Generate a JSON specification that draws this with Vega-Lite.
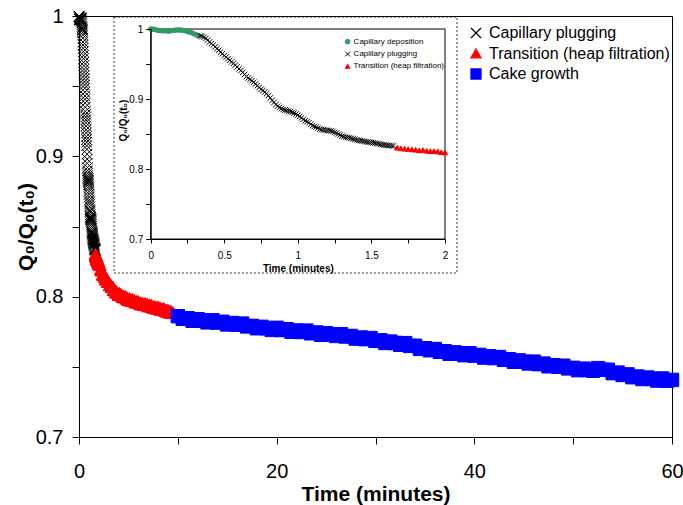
{
  "$schema": "https://vega.github.io/schema/vega-lite/v6.json",
  "width": 593,
  "height": 421,
  "autosize": "none",
  "padding": {"left": 79, "top": 16, "right": 11, "bottom": 68},
  "background": "white",
  "config": {
    "font": "Liberation Sans",
    "view": {"stroke": "#000000", "strokeWidth": 1},
    "axis": {"grid": false, "domainColor": "#000000", "tickColor": "#000000", "labelColor": "#000000", "titleColor": "#000000", "labelFlush": false, "labelOverlap": false, "domainWidth": 1, "tickWidth": 1},
    "legend": {"labelColor": "#000000", "padding": 0, "labelLimit": 400}
  },
  "datasets": {
    "dep": [{"t":0,"q":1.0},{"t":0.0125,"q":0.9998},{"t":0.025,"q":0.9995},{"t":0.0375,"q":0.9988},{"t":0.05,"q":0.998},{"t":0.0625,"q":0.9977},{"t":0.075,"q":0.9975},{"t":0.0875,"q":0.9974},{"t":0.1,"q":0.9975},{"t":0.1125,"q":0.9972},{"t":0.125,"q":0.997},{"t":0.1375,"q":0.9976},{"t":0.15,"q":0.998},{"t":0.1625,"q":0.9983},{"t":0.175,"q":0.9985},{"t":0.1875,"q":0.9986},{"t":0.2,"q":0.9985},{"t":0.2125,"q":0.9983},{"t":0.225,"q":0.998},{"t":0.2375,"q":0.9973},{"t":0.25,"q":0.9965},{"t":0.2625,"q":0.9958},{"t":0.275,"q":0.995},{"t":0.2875,"q":0.9938},{"t":0.3,"q":0.9925},{"t":0.3125,"q":0.9915},{"t":0.325,"q":0.9905}],
    "plug": [{"t":0.3375,"q":0.99},{"t":0.35,"q":0.9895},{"t":0.3625,"q":0.9882},{"t":0.375,"q":0.9865},{"t":0.3875,"q":0.9842},{"t":0.4,"q":0.9815},{"t":0.4125,"q":0.9793},{"t":0.425,"q":0.977},{"t":0.4375,"q":0.9746},{"t":0.45,"q":0.972},{"t":0.4625,"q":0.9696},{"t":0.475,"q":0.967},{"t":0.4875,"q":0.9646},{"t":0.5,"q":0.962},{"t":0.5125,"q":0.9598},{"t":0.525,"q":0.9575},{"t":0.5375,"q":0.9553},{"t":0.55,"q":0.953},{"t":0.5625,"q":0.9508},{"t":0.575,"q":0.9485},{"t":0.5875,"q":0.9458},{"t":0.6,"q":0.943},{"t":0.6125,"q":0.9406},{"t":0.625,"q":0.938},{"t":0.6375,"q":0.935},{"t":0.65,"q":0.932},{"t":0.6625,"q":0.93},{"t":0.675,"q":0.928},{"t":0.6875,"q":0.926},{"t":0.7,"q":0.924},{"t":0.7125,"q":0.9215},{"t":0.725,"q":0.919},{"t":0.7375,"q":0.9166},{"t":0.75,"q":0.914},{"t":0.7625,"q":0.912},{"t":0.775,"q":0.91},{"t":0.7875,"q":0.9076},{"t":0.8,"q":0.905},{"t":0.8125,"q":0.9015},{"t":0.825,"q":0.898},{"t":0.8375,"q":0.895},{"t":0.85,"q":0.892},{"t":0.8625,"q":0.8898},{"t":0.875,"q":0.888},{"t":0.8875,"q":0.8863},{"t":0.9,"q":0.885},{"t":0.9125,"q":0.8842},{"t":0.925,"q":0.8835},{"t":0.9375,"q":0.8828},{"t":0.95,"q":0.882},{"t":0.9625,"q":0.881},{"t":0.975,"q":0.88},{"t":0.9875,"q":0.8786},{"t":1.0,"q":0.877},{"t":1.0125,"q":0.875},{"t":1.025,"q":0.873},{"t":1.0375,"q":0.871},{"t":1.05,"q":0.869},{"t":1.0625,"q":0.8675},{"t":1.075,"q":0.866},{"t":1.0875,"q":0.864},{"t":1.1,"q":0.862},{"t":1.1125,"q":0.861},{"t":1.125,"q":0.86},{"t":1.1375,"q":0.8584},{"t":1.15,"q":0.857},{"t":1.1625,"q":0.8564},{"t":1.175,"q":0.856},{"t":1.1875,"q":0.8556},{"t":1.2,"q":0.855},{"t":1.2125,"q":0.8548},{"t":1.225,"q":0.8545},{"t":1.2375,"q":0.8536},{"t":1.25,"q":0.8525},{"t":1.2625,"q":0.8513},{"t":1.275,"q":0.85},{"t":1.2875,"q":0.8485},{"t":1.3,"q":0.847},{"t":1.3125,"q":0.8462},{"t":1.325,"q":0.8455},{"t":1.3375,"q":0.845},{"t":1.35,"q":0.8445},{"t":1.3625,"q":0.8438},{"t":1.375,"q":0.843},{"t":1.3875,"q":0.8422},{"t":1.4,"q":0.8415},{"t":1.4125,"q":0.841},{"t":1.425,"q":0.8405},{"t":1.4375,"q":0.84},{"t":1.45,"q":0.8395},{"t":1.4625,"q":0.839},{"t":1.475,"q":0.8385},{"t":1.4875,"q":0.8383},{"t":1.5,"q":0.838},{"t":1.5125,"q":0.8374},{"t":1.525,"q":0.837},{"t":1.5375,"q":0.8365},{"t":1.55,"q":0.836},{"t":1.5625,"q":0.8352},{"t":1.575,"q":0.8345},{"t":1.5875,"q":0.8342},{"t":1.6,"q":0.834},{"t":1.6125,"q":0.8337},{"t":1.625,"q":0.8335},{"t":1.6375,"q":0.8332},{"t":1.65,"q":0.833}],
    "trans1": [{"t":1.675,"q":0.8305},{"t":1.7,"q":0.8295},{"t":1.725,"q":0.829},{"t":1.75,"q":0.8285},{"t":1.775,"q":0.828},{"t":1.8,"q":0.8275},{"t":1.825,"q":0.8265},{"t":1.85,"q":0.827},{"t":1.875,"q":0.826},{"t":1.9,"q":0.8255},{"t":1.925,"q":0.8255},{"t":1.95,"q":0.825},{"t":1.975,"q":0.824},{"t":2.0,"q":0.8235}],
    "trans2": [{"t":2.1,"q":0.8226},{"t":2.2,"q":0.8195},{"t":2.3,"q":0.8187},{"t":2.4,"q":0.8158},{"t":2.5,"q":0.8155},{"t":2.6,"q":0.814},{"t":2.7,"q":0.8123},{"t":2.8,"q":0.8129},{"t":2.9,"q":0.8107},{"t":3.0,"q":0.8106},{"t":3.1,"q":0.8083},{"t":3.2,"q":0.8086},{"t":3.3,"q":0.8069},{"t":3.4,"q":0.8072},{"t":3.5,"q":0.8049},{"t":3.6,"q":0.8051},{"t":3.7,"q":0.8032},{"t":3.8,"q":0.8039},{"t":3.9,"q":0.8027},{"t":4.0,"q":0.8013},{"t":4.1,"q":0.8026},{"t":4.2,"q":0.801},{"t":4.3,"q":0.8016},{"t":4.4,"q":0.7998},{"t":4.5,"q":0.8007},{"t":4.6,"q":0.7995},{"t":4.7,"q":0.8004},{"t":4.8,"q":0.7986},{"t":4.9,"q":0.7992},{"t":5.0,"q":0.7976},{"t":5.1,"q":0.7988},{"t":5.2,"q":0.798},{"t":5.3,"q":0.7971},{"t":5.4,"q":0.7984},{"t":5.5,"q":0.797},{"t":5.6,"q":0.7976},{"t":5.7,"q":0.796},{"t":5.8,"q":0.7969},{"t":5.9,"q":0.7959},{"t":6.0,"q":0.7968},{"t":6.1,"q":0.7952},{"t":6.2,"q":0.7959},{"t":6.3,"q":0.7945},{"t":6.4,"q":0.7957},{"t":6.5,"q":0.795},{"t":6.6,"q":0.7941},{"t":6.7,"q":0.7955},{"t":6.8,"q":0.7941},{"t":6.9,"q":0.7948},{"t":7.0,"q":0.7932},{"t":7.1,"q":0.7942},{"t":7.2,"q":0.7932},{"t":7.3,"q":0.7942},{"t":7.4,"q":0.7926},{"t":7.5,"q":0.7933},{"t":7.6,"q":0.7919},{"t":7.7,"q":0.7931},{"t":7.8,"q":0.7924},{"t":7.9,"q":0.7915},{"t":8.0,"q":0.7929},{"t":8.1,"q":0.7915},{"t":8.2,"q":0.7922},{"t":8.3,"q":0.7906},{"t":8.4,"q":0.7916},{"t":8.5,"q":0.7906},{"t":8.6,"q":0.7916},{"t":8.7,"q":0.79},{"t":8.8,"q":0.7907},{"t":8.9,"q":0.7893},{"t":9.0,"q":0.7905},{"t":9.1,"q":0.7897},{"t":9.2,"q":0.7886},{"t":9.3,"q":0.7899},{"t":9.4,"q":0.7884},{"t":9.5,"q":0.7889}],
    "cake": [{"t":10,"q":0.7861},{"t":10.5,"q":0.7842},{"t":11,"q":0.7846},{"t":11.5,"q":0.7828},{"t":12,"q":0.7839},{"t":12.5,"q":0.7829},{"t":13,"q":0.7817},{"t":13.5,"q":0.7832},{"t":14,"q":0.7815},{"t":14.5,"q":0.7821},{"t":15,"q":0.7802},{"t":15.5,"q":0.7812},{"t":16,"q":0.78},{"t":16.5,"q":0.7808},{"t":17,"q":0.7788},{"t":17.5,"q":0.7792},{"t":18,"q":0.7775},{"t":18.5,"q":0.7785},{"t":19,"q":0.7775},{"t":19.5,"q":0.7763},{"t":20,"q":0.7778},{"t":20.5,"q":0.7762},{"t":21,"q":0.7768},{"t":21.5,"q":0.775},{"t":22,"q":0.7759},{"t":22.5,"q":0.7748},{"t":23,"q":0.7758},{"t":23.5,"q":0.7739},{"t":24,"q":0.7745},{"t":24.5,"q":0.7728},{"t":25,"q":0.774},{"t":25.5,"q":0.7731},{"t":26,"q":0.772},{"t":26.5,"q":0.7733},{"t":27,"q":0.7716},{"t":27.5,"q":0.772},{"t":28,"q":0.7701},{"t":28.5,"q":0.7709},{"t":29,"q":0.7697},{"t":29.5,"q":0.7705},{"t":30,"q":0.7685},{"t":30.5,"q":0.7689},{"t":31,"q":0.767},{"t":31.5,"q":0.768},{"t":32,"q":0.767},{"t":32.5,"q":0.7657},{"t":33,"q":0.7669},{"t":33.5,"q":0.7649},{"t":34,"q":0.765},{"t":34.5,"q":0.7628},{"t":35,"q":0.7633},{"t":35.5,"q":0.7618},{"t":36,"q":0.7627},{"t":36.5,"q":0.7607},{"t":37,"q":0.7611},{"t":37.5,"q":0.7593},{"t":38,"q":0.7603},{"t":38.5,"q":0.7595},{"t":39,"q":0.7583},{"t":39.5,"q":0.7597},{"t":40,"q":0.758},{"t":40.5,"q":0.7585},{"t":41,"q":0.7566},{"t":41.5,"q":0.7575},{"t":42,"q":0.7562},{"t":42.5,"q":0.757},{"t":43,"q":0.755},{"t":43.5,"q":0.7554},{"t":44,"q":0.7536},{"t":44.5,"q":0.7546},{"t":45,"q":0.7536},{"t":45.5,"q":0.7524},{"t":46,"q":0.7537},{"t":46.5,"q":0.7519},{"t":47,"q":0.7523},{"t":47.5,"q":0.7504},{"t":48,"q":0.7512},{"t":48.5,"q":0.75},{"t":49,"q":0.7508},{"t":49.5,"q":0.7489},{"t":50,"q":0.7493},{"t":50.5,"q":0.7476},{"t":51,"q":0.7487},{"t":51.5,"q":0.7478},{"t":52,"q":0.7472},{"t":52.5,"q":0.7491},{"t":53,"q":0.7479},{"t":53.5,"q":0.7479},{"t":54,"q":0.7455},{"t":54.5,"q":0.7459},{"t":55,"q":0.7442},{"t":55.5,"q":0.7446},{"t":56,"q":0.7426},{"t":56.5,"q":0.7431},{"t":57,"q":0.7413},{"t":57.5,"q":0.7424},{"t":58,"q":0.7414},{"t":58.5,"q":0.7402},{"t":59,"q":0.7417},{"t":59.5,"q":0.7401},{"t":60,"q":0.7407}]
  },
  "resolve": {"scale": {"x": "independent", "y": "independent", "fill": "independent", "stroke": "independent", "shape": "independent"}},
  "layer": [
    {
      "encoding": {
        "x": {"field": "t", "type": "quantitative", "scale": {"domain": [0, 60], "nice": false, "zero": false},
          "axis": {"orient": "bottom", "values": [0, 10, 20, 30, 40, 50, 60], "format": "d", "labelExpr": "datum.value % 20 === 0 ? datum.label : ''", "tickSize": 7, "labelFontSize": 20, "labelPadding": 17, "title": "Time (minutes)", "titleFontSize": 21, "titleFontWeight": "bold", "titlePadding": 2}},
        "y": {"field": "q", "type": "quantitative", "scale": {"domain": [0.7, 1], "nice": false, "zero": false},
          "axis": {"orient": "left", "values": [0.7, 0.75, 0.8, 0.85, 0.9, 0.95, 1], "labelExpr": "round(datum.value*100) % 10 === 0 ? format(datum.value, '~g') : ''", "tickSize": 7, "labelFontSize": 20, "labelPadding": 9, "title": "Q₀/Q₀(t₀)", "titleFontSize": 21, "titleFontWeight": "bold", "titleX": -47, "titleBaseline": "alphabetic"}}
      },
      "layer": [
        {
          "data": {"name": "dep"},
          "mark": {"type": "point", "filled": true, "opacity": 1, "strokeWidth": 1, "size": 110},
          "encoding": {
            "fill": {"datum": "Capillary plugging", "type": "nominal", "scale": {"domain": ["Capillary plugging", "Transition (heap filtration)", "Cake growth"], "range": ["#000000", "#ff0000", "#0000ff"]},
              "legend": {"title": null, "orient": "none", "legendX": 389, "legendY": 9, "labelFontSize": 16, "symbolSize": 100, "symbolStrokeWidth": 1.3, "rowPadding": 4.5, "labelOffset": 5, "padding": 0, "labelLimit": 400}},
            "stroke": {"datum": "Capillary plugging", "type": "nominal", "scale": {"domain": ["Capillary plugging", "Transition (heap filtration)", "Cake growth"], "range": ["#000000", "#ff0000", "#0000ff"]},
              "legend": {"title": null, "orient": "none", "legendX": 389, "legendY": 9, "labelFontSize": 16, "symbolSize": 100, "symbolStrokeWidth": 1.3, "rowPadding": 4.5, "labelOffset": 5, "padding": 0, "labelLimit": 400}},
            "shape": {"datum": "Capillary plugging", "type": "nominal", "scale": {"domain": ["Capillary plugging", "Transition (heap filtration)", "Cake growth"], "range": ["M-1,-1L1,1M1,-1L-1,1", "triangle-up", "square"]},
              "legend": {"title": null, "orient": "none", "legendX": 389, "legendY": 9, "labelFontSize": 16, "symbolSize": 100, "symbolStrokeWidth": 1.3, "rowPadding": 4.5, "labelOffset": 5, "padding": 0, "labelLimit": 400}}
          }
        },
        {
          "data": {"name": "plug"},
          "mark": {"type": "point", "filled": true, "opacity": 1, "strokeWidth": 1, "size": 110},
          "encoding": {
            "fill": {"datum": "Capillary plugging", "type": "nominal"},
            "stroke": {"datum": "Capillary plugging", "type": "nominal"},
            "shape": {"datum": "Capillary plugging", "type": "nominal"}
          }
        },
        {
          "data": {"name": "trans1"},
          "mark": {"type": "point", "filled": true, "opacity": 1, "strokeWidth": 1, "size": 170},
          "encoding": {
            "fill": {"datum": "Transition (heap filtration)", "type": "nominal"},
            "stroke": {"datum": "Transition (heap filtration)", "type": "nominal"},
            "shape": {"datum": "Transition (heap filtration)", "type": "nominal"}
          }
        },
        {
          "data": {"name": "trans2"},
          "mark": {"type": "point", "filled": true, "opacity": 1, "strokeWidth": 1, "size": 170},
          "encoding": {
            "fill": {"datum": "Transition (heap filtration)", "type": "nominal"},
            "stroke": {"datum": "Transition (heap filtration)", "type": "nominal"},
            "shape": {"datum": "Transition (heap filtration)", "type": "nominal"}
          }
        },
        {
          "data": {"name": "cake"},
          "mark": {"type": "point", "filled": true, "opacity": 1, "strokeWidth": 1, "size": 180},
          "encoding": {
            "fill": {"datum": "Cake growth", "type": "nominal"},
            "stroke": {"datum": "Cake growth", "type": "nominal"},
            "shape": {"datum": "Cake growth", "type": "nominal"}
          }
        }
      ]
    },
    {
      "layer": [
        {
          "data": {"values": [{}]},
          "mark": {"type": "rect", "fill": "white", "stroke": "#333333", "strokeDash": [2, 2], "strokeWidth": 1},
          "encoding": {
            "x": {"datum": -0.2494, "type": "quantitative", "scale": {"domain": [0, 2], "range": [71.7, 366], "nice": false, "zero": false}},
            "x2": {"datum": 2.0815},
            "y": {"datum": 1.017, "type": "quantitative", "scale": {"domain": [0.7, 1], "range": [223, 13], "nice": false, "zero": false}},
            "y2": {"datum": 0.6514}
          }
        },
        {
          "data": {"values": [{}]},
          "mark": {"type": "rect", "filled": false, "stroke": "#000000", "strokeWidth": 1},
          "encoding": {
            "x": {"datum": 0, "type": "quantitative", "scale": {"domain": [0, 2], "range": [71.7, 366], "nice": false, "zero": false}},
            "x2": {"datum": 2},
            "y": {"datum": 0.7, "type": "quantitative", "scale": {"domain": [0.7, 1], "range": [223, 13], "nice": false, "zero": false}},
            "y2": {"datum": 1}
          }
        },
        {
          "data": {"name": "dep"},
          "mark": {"type": "point", "filled": true, "opacity": 1, "strokeWidth": 1, "size": 20},
          "encoding": {
            "x": {"field": "t", "type": "quantitative", "scale": {"domain": [0, 2], "range": [71.7, 366], "nice": false, "zero": false},
              "axis": {"orient": "bottom", "offset": -198, "values": [0, 0.25, 0.5, 0.75, 1, 1.25, 1.5, 1.75, 2], "labelExpr": "round(datum.value*100) % 50 === 0 ? format(datum.value, '~g') : ''", "tickSize": 4, "labelFontSize": 10, "labelPadding": 7, "title": "Time (minutes)", "titleFontSize": 10, "titleFontWeight": "bold", "titlePadding": 3, "zindex": 1}},
            "y": {"field": "q", "type": "quantitative", "scale": {"domain": [0.7, 1], "range": [223, 13], "nice": false, "zero": false},
              "axis": {"orient": "left", "offset": -71.7, "values": [0.7, 0.75, 0.8, 0.85, 0.9, 0.95, 1], "labelExpr": "round(datum.value*100) % 10 === 0 ? format(datum.value, '~g') : ''", "tickSize": 5, "labelFontSize": 10, "labelPadding": 3, "title": "Q₀/Q₀(t₀)", "titleFontSize": 10, "titleFontWeight": "bold", "titleX": -24.7, "titleY": 104, "titleBaseline": "alphabetic", "zindex": 1}},
            "fill": {"datum": "Capillary deposition", "type": "nominal", "scale": {"domain": ["Capillary deposition", "Capillary plugging", "Transition (heap filtration)"], "range": ["#339966", "#000000", "#ff0000"]},
              "legend": {"title": null, "orient": "none", "legendX": 264.6, "legendY": 21.7, "labelFontSize": 8, "symbolSize": 22, "symbolStrokeWidth": 1, "rowPadding": 2.3, "labelOffset": 2, "padding": 0, "labelLimit": 400}},
            "stroke": {"datum": "Capillary deposition", "type": "nominal", "scale": {"domain": ["Capillary deposition", "Capillary plugging", "Transition (heap filtration)"], "range": ["#339966", "#000000", "#ff0000"]},
              "legend": {"title": null, "orient": "none", "legendX": 264.6, "legendY": 21.7, "labelFontSize": 8, "symbolSize": 22, "symbolStrokeWidth": 1, "rowPadding": 2.3, "labelOffset": 2, "padding": 0, "labelLimit": 400}},
            "shape": {"datum": "Capillary deposition", "type": "nominal", "scale": {"domain": ["Capillary deposition", "Capillary plugging", "Transition (heap filtration)"], "range": ["circle", "M-1,-1L1,1M1,-1L-1,1", "triangle-up"]},
              "legend": {"title": null, "orient": "none", "legendX": 264.6, "legendY": 21.7, "labelFontSize": 8, "symbolSize": 22, "symbolStrokeWidth": 1, "rowPadding": 2.3, "labelOffset": 2, "padding": 0, "labelLimit": 400}}
          }
        },
        {
          "data": {"name": "plug"},
          "mark": {"type": "point", "filled": true, "opacity": 1, "strokeWidth": 1, "size": 30},
          "encoding": {
            "x": {"field": "t", "type": "quantitative"},
            "y": {"field": "q", "type": "quantitative"},
            "fill": {"datum": "Capillary plugging", "type": "nominal"},
            "stroke": {"datum": "Capillary plugging", "type": "nominal"},
            "shape": {"datum": "Capillary plugging", "type": "nominal"}
          }
        },
        {
          "data": {"name": "trans1"},
          "mark": {"type": "point", "filled": true, "opacity": 1, "strokeWidth": 1, "size": 28},
          "encoding": {
            "x": {"field": "t", "type": "quantitative"},
            "y": {"field": "q", "type": "quantitative"},
            "fill": {"datum": "Transition (heap filtration)", "type": "nominal"},
            "stroke": {"datum": "Transition (heap filtration)", "type": "nominal"},
            "shape": {"datum": "Transition (heap filtration)", "type": "nominal"}
          }
        }
      ]
    }
  ]
}
